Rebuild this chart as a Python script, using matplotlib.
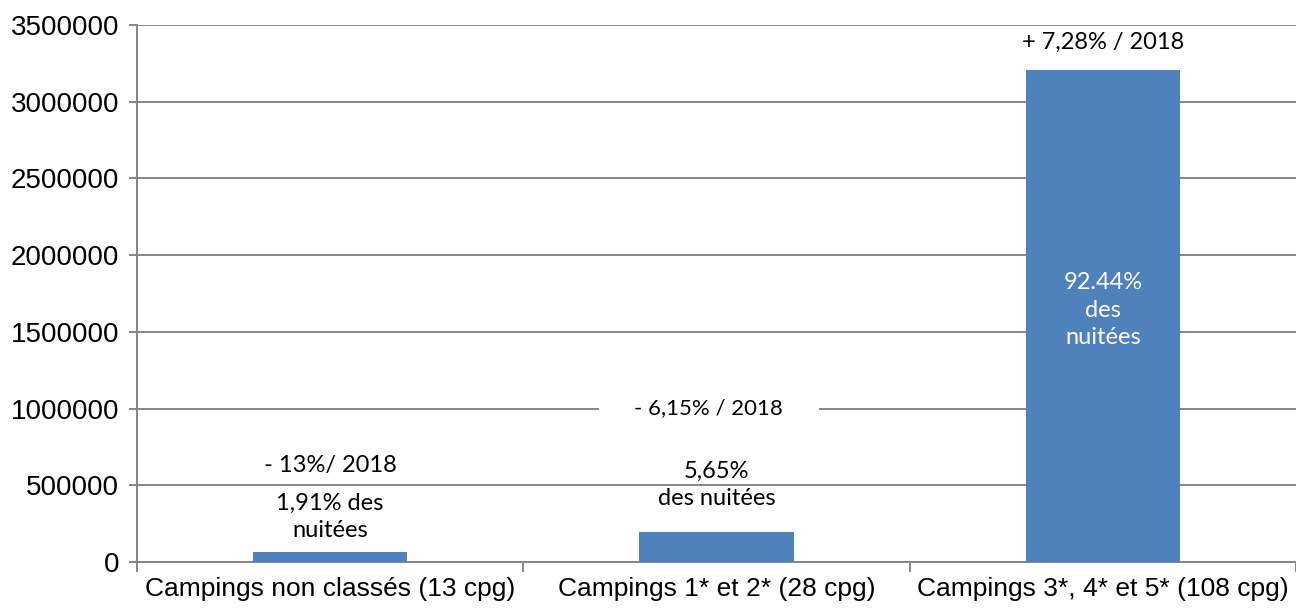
import matplotlib.pyplot as plt
import numpy as np

# Nuitées par catégorie de camping
categories = ['Campings non classés (13 cpg)', 'Campings 1* et 2* (28 cpg)',
              'Campings 3*, 4* et 5* (108 cpg)']
nuitees = [66000, 196000, 3205000]
evolution = ['- 13%/ 2018', '- 6,15% / 2018', '+ 7,28% / 2018']
parts = ['1,91% des\nnuitées', '5,65%\ndes nuitées', '92.44%\ndes\nnuitées']
y_ticks = [0, 500000, 1000000, 1500000, 2000000, 2500000, 3000000, 3500000]

bar_color = '#4F81BD'
grid_color = '#868686'

fig = plt.figure(figsize=(12.96, 6.08), dpi=100)
ax = fig.add_axes([137 / 1296, 46 / 608, 1 - 137 / 1296, 537 / 608])

x = np.arange(len(categories))
ax.bar(x, nuitees, width=0.4, color=bar_color, zorder=3)

ax.set_xlim(-0.5, len(categories) - 0.5)
ax.set_ylim(0, 3500000)
ax.set_yticks(y_ticks)
ax.set_yticklabels([str(v) for v in y_ticks], family='Liberation Sans', fontsize=20)
ax.yaxis.grid(True, color=grid_color, linewidth=1.4, zorder=0)
ax.tick_params(axis='y', length=6, width=1.4, color=grid_color, pad=7)

# labels at centres, tick marks between categories
ax.set_xticks(x)
ax.set_xticklabels(categories, family='Liberation Sans', fontsize=19)
ax.set_xticks(np.arange(-0.5, len(categories)), minor=True)
ax.tick_params(axis='x', which='major', length=0, pad=11)
ax.tick_params(axis='x', which='minor', length=7, width=1.4, color=grid_color)

for s in ['top', 'right']:
    ax.spines[s].set_visible(False)
for s in ['left', 'bottom']:
    ax.spines[s].set_color(grid_color)
    ax.spines[s].set_linewidth(1.4)

font = 'Lato'
fs = 17
# variations / 2018
ax.text(x[0], 632000, evolution[0], ha='center', va='center', family=font, fontsize=fs, zorder=4)
ax.text(x[1] - 0.02, 1000000, evolution[1], ha='center', va='center', family=font, fontsize=16,
        zorder=4, bbox=dict(boxstyle='square,pad=1.6', facecolor='white', edgecolor='none'))
ax.text(x[2], 3389000, evolution[2], ha='center', va='center', family=font, fontsize=fs, zorder=4)

# parts des nuitées
ax.text(x[0], 293000, parts[0], ha='center', va='center', family=font, fontsize=fs,
        linespacing=1.35, zorder=4)
ax.text(x[1], 502000, parts[1], ha='center', va='center', family=font, fontsize=fs,
        linespacing=1.35, zorder=4)
ax.text(x[2], 1642000, parts[2], ha='center', va='center', family=font, fontsize=fs,
        linespacing=1.4, color='white', zorder=4)

fig.savefig('out.png', dpi=100)
